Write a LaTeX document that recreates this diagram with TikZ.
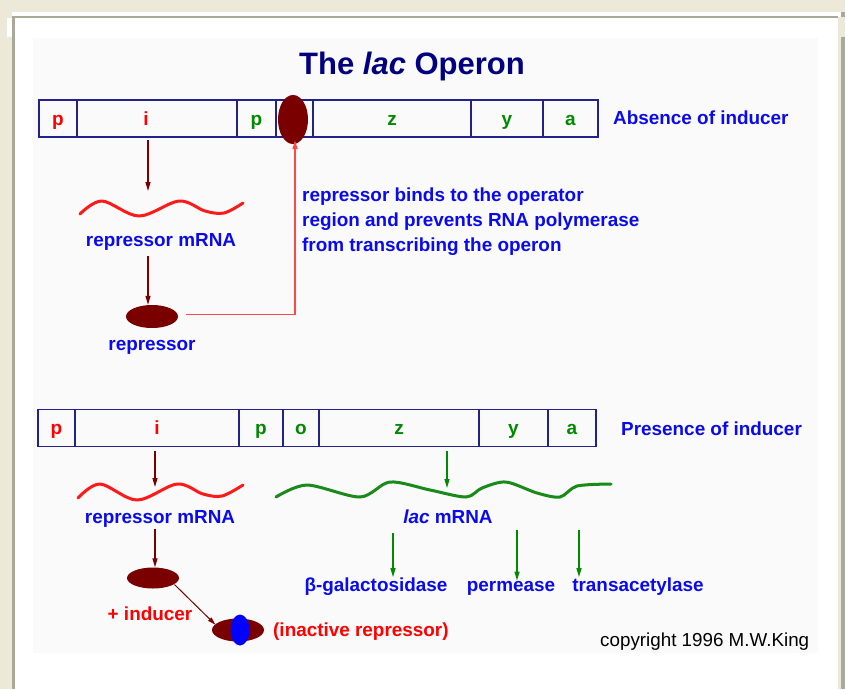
\documentclass[tikz,border=0pt]{standalone}
\usepackage{fontspec}
\setmainfont{Liberation Sans}
\usetikzlibrary{shapes.geometric,arrows.meta}
\definecolor{bgbeige}{HTML}{ECE9D8}
\definecolor{framegray}{HTML}{ACA899}
\definecolor{panel}{HTML}{FAFAFA}
\definecolor{navy}{HTML}{000080}
\definecolor{barline}{HTML}{22228C}
\definecolor{lblue}{HTML}{0A0AF0}
\definecolor{gred}{HTML}{FF0000}
\definecolor{ggreen}{HTML}{008A00}
\definecolor{dred}{HTML}{7A0000}
\definecolor{wred}{HTML}{FF1A1A}
\definecolor{lred}{HTML}{FF4848}
\definecolor{wgreen}{HTML}{1A8A1A}
\newcommand\lblfont{\fontsize{18.9}{21}\selectfont\bfseries}
\newcommand\genefont{\fontsize{19}{21}\selectfont\bfseries}
\newcommand\ttlfont{\fontsize{31}{36}\selectfont\bfseries}
\newcommand\cpyfont{\fontsize{18.8}{21}\selectfont}
\begin{document}
\begin{tikzpicture}[x=1pt,y=-1pt,
  seg/.style={draw=barline,line width=1.4pt,minimum height=37pt,inner sep=0pt,font=\genefont,text height=13pt,text depth=0pt},
  gletter/.style={font=\genefont,inner sep=0pt,text height=13pt,text depth=0pt},
  lbl/.style={text=lblue,font=\lblfont,inner sep=0pt},
  rlbl/.style={text=gred,font=\lblfont,inner sep=0pt},
  darr/.style={draw=dred,line width=1.3pt,-{Triangle[length=9pt,width=5pt]}},
  garr/.style={draw=ggreen,line width=1.3pt,-{Triangle[length=9pt,width=5pt]}},
  rwave/.style={draw=wred,line width=3pt,line join=round,line cap=round},
  gwave/.style={draw=wgreen,line width=3pt,line join=round,line cap=round},
  blob/.style={ellipse,fill=dred,inner sep=0pt}]
\useasboundingbox (0,0) rectangle (845,689);
% window frame
\fill[bgbeige] (0,0) rectangle (845,689);
\fill[white] (12,12) rectangle (841,689);
\fill[framegray] (12,16) rectangle (838,17.5);
\fill[framegray] (12,17) rectangle (14.5,689);
\fill[white] (7,18) rectangle (12,37);
\fill[bgbeige] (838,17) rectangle (841,689);
\fill[framegray] (841,12) rectangle (845,17);
\fill[framegray] (841,37) rectangle (845,689);
\fill[panel] (33,38) rectangle (818,653);
% title
\node[text=navy,font=\ttlfont,inner sep=0pt,anchor=base] (title) at (412,74) {The \textit{lac} Operon};
% ---------- top: absence of inducer ----------
\node[seg,minimum width=38pt,text=gred] (tp1) at (58,118.5) {p};
\node[seg,minimum width=160pt] (ti) at (157,118.5) {};
\node[gletter,text=gred] (til) at (146,118.5) {i};
\node[seg,minimum width=39pt,text=ggreen] (tp2) at (256.5,118.5) {p};
\node[seg,minimum width=37pt] (to) at (294.5,118.5) {};
\node[seg,minimum width=158pt,text=ggreen] (tz) at (392,118.5) {z};
\node[seg,minimum width=72pt,text=ggreen] (ty) at (507,118.5) {y};
\node[seg,minimum width=55pt,text=ggreen] (ta) at (570.5,118.5) {a};
\node[blob,minimum width=30pt,minimum height=49pt] (rep1) at (293,119.5) {};
\node[lbl,anchor=base west] (absence) at (613,124) {Absence of inducer};
\coordinate (ti0) at (148,140);
\coordinate (rw1) at (148,191);
\draw[rwave] plot[smooth,tension=0.55] coordinates {(80,214) (102,201) (139,216) (179,201) (205,211) (224,213) (243,203)};
\draw[darr] (ti0) -- (rw1);
\node[lbl,anchor=base] (rmrna1) at (161,246) {repressor mRNA};
\node[blob,minimum width=52pt,minimum height=23pt] (rep2) at (152,316.5) {};
\draw[darr] (rmrna1.south -| rw1) ++(0,6) -- (rep2.north -| rw1);
\node[lbl,anchor=base] (replbl) at (152,350) {repressor};
\draw[draw=lred,line width=1.4pt,-{Triangle[length=9pt,width=5pt]}] ([xshift=8pt,yshift=2pt]rep2.east) -| ([xshift=2pt,yshift=4pt]rep1.south);
\node[lbl,anchor=base west] (bind1) at (302,201) {repressor binds to the operator};
\node[lbl,anchor=base west] (bind2) at (302,226) {region and prevents RNA polymerase};
\node[lbl,anchor=base west] (bind3) at (302,251) {from transcribing the operon};
% ---------- bottom: presence of inducer ----------
\node[seg,minimum width=37pt,text=gred] (bp1) at (56.5,428) {p};
\node[seg,minimum width=164pt,text=gred] (bi) at (157,428) {i};
\node[seg,minimum width=44pt,text=ggreen] (bp2) at (261,428) {p};
\node[seg,minimum width=36pt,text=ggreen] (bo) at (301,428) {o};
\node[seg,minimum width=160pt,text=ggreen] (bz) at (399,428) {z};
\node[seg,minimum width=69pt,text=ggreen] (by) at (513.5,428) {y};
\node[seg,minimum width=48pt,text=ggreen] (ba) at (572,428) {a};
\node[lbl,anchor=base west] (presence) at (621,435) {Presence of inducer};
% repressor branch
\coordinate (bi0) at (155,451);
\coordinate (rw2) at (155,487);
\draw[rwave] plot[smooth,tension=0.55] coordinates {(78,498) (100,484) (137,500) (177,484) (203,494) (222,496) (243,485)};
\draw[darr] (bi0) -- (rw2);
\node[lbl,anchor=base] (rmrna2) at (160,523) {repressor mRNA};
\node[blob,minimum width=52pt,minimum height=21pt] (rep3) at (153,578) {};
\coordinate (rm2a) at (155,529);
\draw[darr] (rm2a) -- (rep3.north -| rm2a);
\node[rlbl,anchor=base] (inducer) at (150,620) {+ inducer};
\node[blob,minimum width=52pt,minimum height=23pt] (rep4) at (238,630) {};
\node[ellipse,fill=blue,inner sep=0pt,minimum width=19pt,minimum height=31pt] (ind) at (240,630) {};
\draw[draw=dred,line width=1pt,-{Triangle[length=8pt,width=4.5pt]}] ([xshift=3pt,yshift=1pt]rep3.south east) -- ([xshift=-4pt,yshift=-3pt]rep4.north west);
\node[rlbl,anchor=base west] (inact) at (273,636) {(inactive repressor)};
% lac branch
\coordinate (bz0) at (447,451);
\coordinate (gw) at (447,488);
\draw[gwave] plot[smooth,tension=0.5] coordinates {(276,497) (307,485) (360,497) (390,482) (430,490) (466,497) (482,488) (506,482) (537,493) (560,497) (577,486) (611,484)};
\draw[garr] (bz0) -- (gw);
\node[lbl,anchor=base] (lacm) at (448,523) {\textit{lac} mRNA};
\node[lbl,anchor=base] (bgal) at (376,591) {β-galactosidase};
\node[lbl,anchor=base] (perm) at (511,591) {permease};
\node[lbl,anchor=base] (trans) at (638,591) {transacetylase};
\coordinate (g1) at (393,533);
\coordinate (g2) at (517,530);
\coordinate (g3) at (579,530);
\draw[garr] (g1) -- (bgal.north -| g1);
\draw[garr] (g2) -- (perm.north -| g2);
\draw[garr] (g3) -- (trans.north -| g3);
\node[text=black,font=\cpyfont,inner sep=0pt,anchor=base west] (copy) at (600,646) {copyright 1996 M.W.King};
\end{tikzpicture}
\end{document}
